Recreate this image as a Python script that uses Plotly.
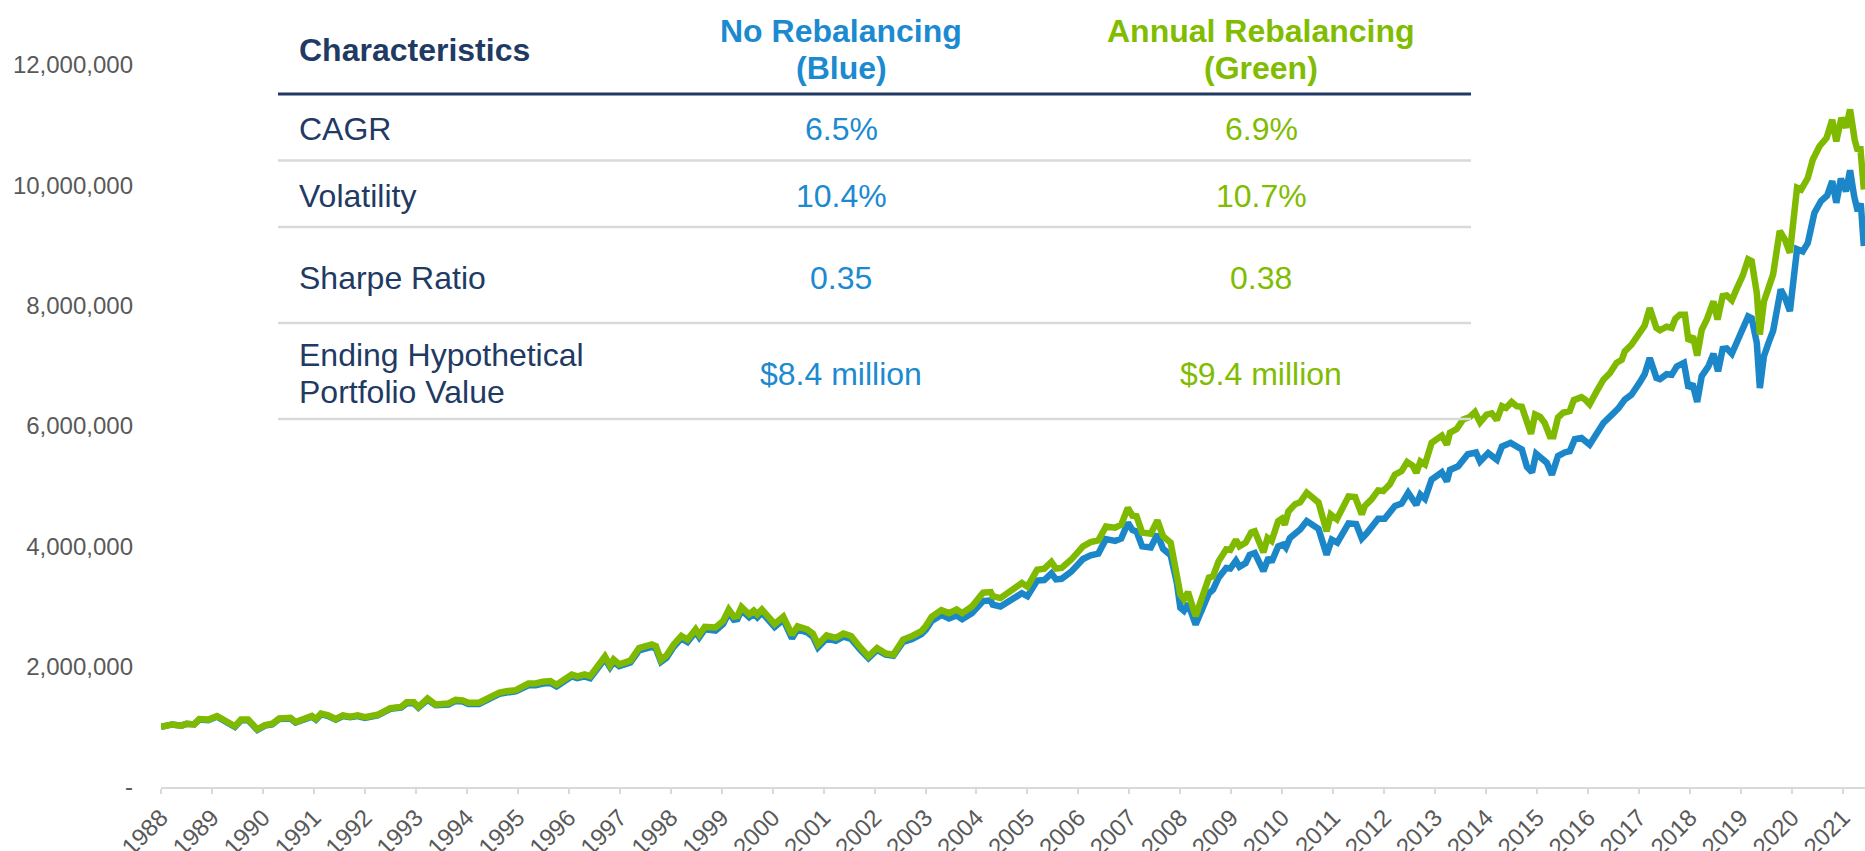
import plotly.graph_objects as go

# ---------------- data (values in US$ millions, x in decimal years) ----------------
green_years = [1988.00,1988.22,1988.40,1988.50,1988.65,1988.75,1988.93,1989.10,1989.45,1989.57,1989.71,1989.89,
1990.04,1990.18,1990.32,1990.54,1990.64,1990.79,1990.96,1991.04,1991.14,1991.28,1991.43,1991.57,1991.71,1991.86,
1992.00,1992.25,1992.50,1992.71,1992.82,1992.96,1993.05,1993.23,1993.39,1993.64,1993.78,1993.92,1994.03,1994.24,
1994.46,1994.64,1994.78,1994.96,1995.21,1995.35,1995.49,1995.64,1995.76,1995.92,1996.06,1996.17,1996.31,1996.42,
1996.56,1996.71,1996.81,1996.88,1996.99,1997.21,1997.38,1997.53,1997.63,1997.71,1997.81,1997.92,1998.06,1998.21,
1998.33,1998.49,1998.56,1998.67,1998.88,1999.03,1999.14,1999.24,1999.31,1999.39,1999.54,1999.63,1999.70,1999.79,
1999.91,2000.04,2000.21,2000.38,2000.49,2000.68,2000.79,2000.89,2001.06,2001.24,2001.39,2001.54,2001.73,2001.88,
2002.05,2002.22,2002.37,2002.56,2002.74,2002.92,2003.01,2003.12,2003.31,2003.46,2003.61,2003.72,2003.91,2004.13,
2004.28,2004.32,2004.47,2004.62,2004.77,2004.89,2005.00,2005.19,2005.33,2005.47,2005.56,2005.67,2005.86,2006.09,
2006.24,2006.39,2006.54,2006.72,2006.84,2006.97,2007.06,2007.14,2007.25,2007.36,2007.42,2007.55,2007.66,2007.81,
2007.93,2008.00,2008.07,2008.15,2008.30,2008.45,2008.56,2008.64,2008.75,2008.90,2008.98,2009.09,2009.16,2009.28,
2009.39,2009.46,2009.56,2009.63,2009.71,2009.79,2009.92,2009.99,2010.05,2010.12,2010.25,2010.35,2010.48,2010.58,
2010.71,2010.87,2010.95,2011.07,2011.17,2011.30,2011.43,2011.56,2011.62,2011.75,2011.88,2011.98,2012.11,2012.21,
2012.34,2012.45,2012.56,2012.63,2012.71,2012.80,2012.93,2013.03,2013.13,2013.23,2013.29,2013.42,2013.55,2013.68,
2013.78,2013.88,2014.01,2014.11,2014.21,2014.31,2014.39,2014.50,2014.60,2014.70,2014.80,2014.88,2014.96,2015.06,
2015.15,2015.25,2015.32,2015.41,2015.51,2015.64,2015.72,2015.87,2015.94,2016.03,2016.17,2016.30,2016.43,2016.56,
2016.66,2016.72,2016.85,2016.98,2017.11,2017.21,2017.34,2017.41,2017.54,2017.64,2017.71,2017.80,2017.90,2017.97,
2018.06,2018.14,2018.23,2018.33,2018.46,2018.54,2018.64,2018.72,2018.82,2018.91,2019.03,2019.14,2019.21,2019.31,
2019.37,2019.45,2019.54,2019.63,2019.76,2019.86,2019.96,2020.02,2020.10,2020.18,2020.31,2020.41,2020.54,2020.68,
2020.79,2020.87,2020.97,2021.06,2021.14,2021.23,2021.29,2021.34,2021.41]
green_values = [1.00,1.04,1.02,1.05,1.04,1.13,1.12,1.18,1.01,1.12,1.12,0.96,
1.03,1.05,1.14,1.15,1.08,1.14,1.18,1.13,1.22,1.19,1.13,1.19,1.17,1.19,
1.16,1.20,1.31,1.33,1.41,1.41,1.33,1.47,1.37,1.39,1.45,1.44,1.40,1.40,
1.51,1.57,1.59,1.61,1.72,1.72,1.75,1.76,1.70,1.78,1.87,1.84,1.87,1.84,
2.01,2.17,2.02,2.12,2.04,2.10,2.31,2.34,2.37,2.34,2.11,2.19,2.37,2.51,
2.45,2.62,2.53,2.66,2.65,2.76,2.95,2.83,2.84,2.99,2.87,2.93,2.87,2.95,
2.83,2.71,2.83,2.53,2.67,2.62,2.55,2.37,2.52,2.48,2.55,2.51,2.31,2.17,
2.31,2.22,2.20,2.45,2.51,2.59,2.68,2.83,2.94,2.89,2.95,2.89,3.00,3.23,
3.24,3.17,3.14,3.23,3.31,3.39,3.33,3.61,3.63,3.74,3.63,3.64,3.78,4.00,
4.07,4.10,4.33,4.31,4.36,4.64,4.51,4.50,4.23,4.23,4.21,4.43,4.17,4.06,
3.56,3.20,3.12,3.24,2.84,3.17,3.48,3.50,3.75,3.95,3.94,4.11,4.00,4.06,
4.23,4.25,4.00,3.90,4.14,4.09,4.42,4.46,4.36,4.58,4.70,4.73,4.89,4.81,
4.73,4.25,4.53,4.45,4.61,4.83,4.82,4.53,4.67,4.78,4.93,4.92,5.03,5.19,
5.25,5.40,5.34,5.22,5.41,5.36,5.72,5.78,5.84,5.69,5.89,5.95,6.11,6.15,
6.23,6.06,6.19,6.21,6.10,6.33,6.30,6.40,6.33,6.32,6.02,5.87,6.19,6.15,
6.05,5.83,5.83,6.14,6.22,6.25,6.43,6.48,6.44,6.36,6.58,6.77,6.88,7.05,
7.10,7.24,7.35,7.52,7.67,7.96,7.63,7.59,7.65,7.63,7.78,7.85,7.85,7.41,
7.49,7.17,7.60,7.77,8.07,7.77,8.16,8.17,8.09,8.27,8.49,8.77,8.74,8.21,
7.52,8.07,8.27,8.52,9.24,9.10,8.88,9.43,9.96,9.93,10.12,10.43,10.65,10.79,
11.09,10.73,11.12,10.96,11.26,10.76,10.57,10.65,9.93]

blue_years = [1988.00,1988.22,1988.40,1988.50,1988.65,1988.75,1988.93,1989.10,1989.45,1989.57,1989.71,1989.89,
1990.04,1990.18,1990.32,1990.54,1990.64,1990.79,1990.96,1991.04,1991.14,1991.28,1991.43,1991.57,1991.71,1991.86,
1992.00,1992.25,1992.50,1992.71,1992.82,1992.96,1993.05,1993.23,1993.39,1993.64,1993.78,1993.92,1994.03,1994.24,
1994.46,1994.64,1994.78,1994.96,1995.21,1995.35,1995.49,1995.64,1995.76,1995.92,1996.06,1996.17,1996.31,1996.42,
1996.56,1996.71,1996.81,1996.88,1996.99,1997.21,1997.38,1997.53,1997.63,1997.71,1997.81,1997.92,1998.06,1998.21,
1998.33,1998.49,1998.56,1998.67,1998.88,1999.03,1999.14,1999.24,1999.31,1999.39,1999.54,1999.63,1999.70,1999.79,
1999.91,2000.04,2000.21,2000.38,2000.49,2000.68,2000.79,2000.89,2001.06,2001.24,2001.39,2001.54,2001.73,2001.88,
2002.05,2002.22,2002.37,2002.56,2002.74,2002.92,2003.01,2003.12,2003.31,2003.46,2003.61,2003.72,2003.91,2004.13,
2004.28,2004.32,2004.47,2004.62,2004.77,2004.89,2005.00,2005.19,2005.33,2005.47,2005.56,2005.67,2005.86,2006.09,
2006.24,2006.39,2006.54,2006.72,2006.84,2006.97,2007.06,2007.14,2007.25,2007.36,2007.42,2007.55,2007.66,2007.81,
2007.93,2008.00,2008.07,2008.15,2008.30,2008.45,2008.56,2008.64,2008.75,2008.90,2008.98,2009.09,2009.16,2009.28,
2009.36,2009.46,2009.53,2009.63,2009.73,2009.79,2009.92,2010.02,2010.07,2010.15,2010.35,2010.48,2010.71,2010.87,
2010.97,2011.08,2011.30,2011.45,2011.56,2011.66,2011.88,2012.01,2012.21,2012.34,2012.47,2012.63,2012.71,2012.80,
2012.93,2013.13,2013.23,2013.29,2013.45,2013.64,2013.80,2013.88,2014.04,2014.21,2014.31,2014.48,2014.60,2014.70,
2014.80,2014.90,2014.98,2015.19,2015.29,2015.41,2015.54,2015.64,2015.74,2015.87,2016.03,2016.17,2016.30,2016.47,
2016.60,2016.72,2016.85,2017.01,2017.11,2017.21,2017.34,2017.41,2017.54,2017.64,2017.74,2017.88,2017.97,2018.05,
2018.14,2018.23,2018.36,2018.46,2018.55,2018.64,2018.72,2018.82,2019.01,2019.14,2019.21,2019.31,2019.37,2019.45,
2019.54,2019.63,2019.78,2019.86,2019.96,2020.02,2020.10,2020.21,2020.31,2020.44,2020.57,2020.69,2020.79,2020.87,
2020.96,2021.06,2021.14,2021.22,2021.29,2021.35,2021.41]
blue_values = [1.00,1.04,1.02,1.05,1.04,1.12,1.11,1.17,1.00,1.11,1.11,0.95,
1.02,1.04,1.13,1.14,1.07,1.13,1.17,1.12,1.21,1.18,1.12,1.18,1.16,1.18,
1.15,1.19,1.30,1.32,1.39,1.39,1.32,1.45,1.36,1.37,1.43,1.42,1.38,1.38,
1.49,1.55,1.57,1.59,1.69,1.69,1.72,1.73,1.67,1.75,1.84,1.81,1.84,1.81,
1.98,2.13,1.99,2.08,2.01,2.07,2.27,2.30,2.33,2.30,2.08,2.15,2.33,2.47,
2.41,2.58,2.49,2.62,2.60,2.71,2.90,2.78,2.79,2.94,2.82,2.88,2.82,2.90,
2.78,2.66,2.78,2.47,2.62,2.57,2.50,2.32,2.47,2.43,2.50,2.46,2.27,2.14,
2.28,2.20,2.18,2.41,2.46,2.54,2.62,2.76,2.86,2.80,2.85,2.79,2.89,3.09,
3.10,3.03,3.00,3.08,3.15,3.22,3.17,3.43,3.44,3.55,3.45,3.46,3.58,3.79,
3.85,3.88,4.12,4.09,4.13,4.39,4.27,4.25,4.00,4.00,3.98,4.20,3.96,3.85,
3.40,2.98,2.93,3.05,2.70,3.00,3.22,3.28,3.48,3.64,3.63,3.76,3.66,3.72,
3.86,3.89,3.75,3.59,3.81,3.74,4.00,4.03,3.98,4.14,4.28,4.42,4.29,3.86,
4.11,4.06,4.38,4.37,4.13,4.22,4.46,4.46,4.67,4.71,4.89,4.69,4.86,4.79,
5.11,5.23,5.08,5.27,5.33,5.53,5.56,5.41,5.55,5.44,5.66,5.72,5.66,5.61,
5.32,5.23,5.54,5.39,5.19,5.50,5.56,5.58,5.78,5.80,5.69,5.89,6.05,6.19,
6.30,6.44,6.52,6.72,6.86,7.13,6.80,6.78,6.86,6.85,6.99,7.05,6.63,6.70,
6.40,6.83,6.99,7.20,6.91,7.28,7.29,7.20,7.55,7.82,7.79,7.38,6.63,7.16,
7.38,7.58,8.27,8.14,7.91,8.43,8.94,8.90,9.04,9.54,9.74,9.83,10.07,9.71,
10.11,9.90,10.25,9.82,9.57,9.70,8.99]

year_ticks = list(range(1988, 2022))
y_ticks = [0, 2_000_000, 4_000_000, 6_000_000, 8_000_000, 10_000_000, 12_000_000]

table_header = ["Characteristics", ["No Rebalancing", "(Blue)"], ["Annual Rebalancing", "(Green)"]]
row_labels = [["CAGR"], ["Volatility"], ["Sharpe Ratio"], ["Ending Hypothetical", "Portfolio Value"]]
blue_stats = ["6.5%", "10.4%", "0.35", "$8.4 million"]
green_stats = ["6.9%", "10.7%", "0.38", "$9.4 million"]

# ---------------- styling ----------------
BLUE = "#1B87C9"
GREEN = "#7FBA00"
BLUE_TXT = "#1C8AD0"
GREEN_TXT = "#80BC00"
NAVY = "#1F3A63"
GRAY_TXT = "#595959"
FONT = "Liberation Sans, Arial, sans-serif"

W, H = 1865, 851
ML, MR, MT, MB = 161, 0, 0, 64
PW, PH = W - ML - MR, H - MT - MB


def px(xp):
    return (xp - ML) / PW


def py(yp):
    return (H - MB - yp) / PH


fig = go.Figure()
fig.add_trace(go.Scatter(x=blue_years, y=[v * 1e6 for v in blue_values], mode="lines",
                         line=dict(color=BLUE, width=6.5), name="No Rebalancing"))
fig.add_trace(go.Scatter(x=green_years, y=[v * 1e6 for v in green_values], mode="lines",
                         line=dict(color=GREEN, width=6.5), name="Annual Rebalancing"))

# ---------------- table (shapes + annotations) ----------------
tx0, tx1 = 278, 1471
label_x = 297
col_x = [841, 1261]
shapes = [dict(type="line", xref="paper", yref="paper", x0=px(tx0), x1=px(tx1), y0=py(94), y1=py(94),
               line=dict(color="#203864", width=3))]
for ry in [160.5, 227, 323, 419]:
    shapes.append(dict(type="line", xref="paper", yref="paper", x0=px(tx0), x1=px(tx1), y0=py(ry), y1=py(ry),
                       line=dict(color="#D9D9D9", width=2.5)))

annotations = []


def add_text(text, xp, yp, color, size=32, bold=False, anchor="left"):
    t = f"<b>{text}</b>" if bold else text
    annotations.append(dict(text=t, x=px(xp), y=py(yp), xref="paper", yref="paper", showarrow=False,
                            xanchor=anchor, yanchor="middle",
                            font=dict(family=FONT, size=size, color=color)))


add_text(table_header[0], label_x, 50, NAVY, bold=True)
for lines, cx, c in [(table_header[1], col_x[0], BLUE_TXT), (table_header[2], col_x[1], GREEN_TXT)]:
    add_text(lines[0], cx, 31, c, bold=True, anchor="center")
    add_text(lines[1], cx, 68, c, bold=True, anchor="center")

row_centers = [129, 196, 278, 374]
for lab, yc, bv, gv in zip(row_labels, row_centers, blue_stats, green_stats):
    if len(lab) == 1:
        add_text(lab[0], label_x, yc, NAVY)
    else:
        add_text(lab[0], label_x, yc - 19, NAVY)
        add_text(lab[1], label_x, yc + 18, NAVY)
    add_text(bv, col_x[0], yc, BLUE_TXT, anchor="center")
    add_text(gv, col_x[1], yc, GREEN_TXT, anchor="center")

fig.update_layout(
    width=W, height=H,
    margin=dict(l=ML, r=MR, t=MT, b=MB, pad=0, autoexpand=False),
    paper_bgcolor="white", plot_bgcolor="white",
    showlegend=False,
    font=dict(family=FONT, color=GRAY_TXT),
    shapes=shapes, annotations=annotations,
    xaxis=dict(
        range=[1988, 2021.433], tickmode="array", tickvals=year_ticks,
        ticktext=[str(y) for y in year_ticks], tickangle=-45,
        ticks="outside", ticklen=5, tickwidth=2, tickcolor="#D9D9D9",
        showline=True, linecolor="#D9D9D9", linewidth=2,
        showgrid=False, zeroline=False, automargin=False,
        tickfont=dict(family=FONT, size=24, color=GRAY_TXT),
    ),
    yaxis=dict(
        range=[0, 13.08e6], tickmode="array", tickvals=y_ticks,
        ticktext=["-" if v == 0 else f"{v:,.0f}" for v in y_ticks],
        showgrid=False, zeroline=False, showline=False, ticks="",
        ticklabelstandoff=27, automargin=False,
        tickfont=dict(family=FONT, size=24, color=GRAY_TXT),
    ),
)

fig.write_html("out.html", config={"displayModeBar": False},
               post_script="document.body.style.margin='0';document.body.style.overflow='hidden';")
